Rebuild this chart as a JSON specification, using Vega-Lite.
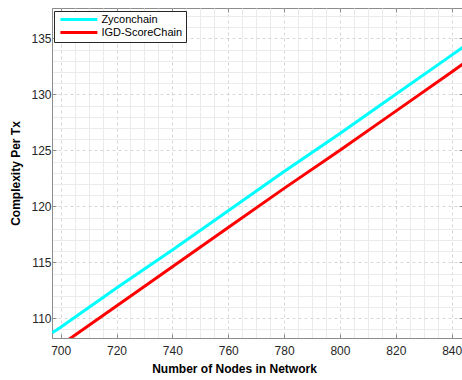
{
  "$schema": "https://vega.github.io/schema/vega-lite/v6.json",
  "width": 411,
  "height": 330,
  "autosize": "none",
  "padding": {"left": 52, "top": 8, "right": 0, "bottom": 42},
  "background": "white",
  "config": {
    "view": {"stroke": "#8c8c8c", "strokeWidth": 1},
    "font": "Liberation Sans"
  },
  "data": {
    "values": [
      {"series": "Zyconchain", "nodes": 697, "complexity": 108.7},
      {"series": "Zyconchain", "nodes": 700, "complexity": 109.2},
      {"series": "Zyconchain", "nodes": 720, "complexity": 112.7},
      {"series": "Zyconchain", "nodes": 740, "complexity": 116.1},
      {"series": "Zyconchain", "nodes": 760, "complexity": 119.6},
      {"series": "Zyconchain", "nodes": 780, "complexity": 123.1},
      {"series": "Zyconchain", "nodes": 800, "complexity": 126.5},
      {"series": "Zyconchain", "nodes": 820, "complexity": 130.0},
      {"series": "Zyconchain", "nodes": 840, "complexity": 133.5},
      {"series": "Zyconchain", "nodes": 844, "complexity": 134.2},
      {"series": "IGD-ScoreChain", "nodes": 697, "complexity": 107.1},
      {"series": "IGD-ScoreChain", "nodes": 700, "complexity": 107.6},
      {"series": "IGD-ScoreChain", "nodes": 720, "complexity": 111.1},
      {"series": "IGD-ScoreChain", "nodes": 740, "complexity": 114.6},
      {"series": "IGD-ScoreChain", "nodes": 760, "complexity": 118.1},
      {"series": "IGD-ScoreChain", "nodes": 780, "complexity": 121.6},
      {"series": "IGD-ScoreChain", "nodes": 800, "complexity": 125.0},
      {"series": "IGD-ScoreChain", "nodes": 820, "complexity": 128.5},
      {"series": "IGD-ScoreChain", "nodes": 840, "complexity": 132.0},
      {"series": "IGD-ScoreChain", "nodes": 844, "complexity": 132.7}
    ]
  },
  "layer": [
    {
      "mark": {"type": "line", "strokeWidth": 3, "clip": true},
      "encoding": {
        "x": {
          "field": "nodes",
          "type": "quantitative",
          "scale": {"domain": [696.9, 844.05], "nice": false, "zero": false},
          "axis": {
            "values": [700,705,710,715,720,725,730,735,740,745,750,755,760,765,770,775,780,785,790,795,800,805,810,815,820,825,830,835,840],
            "labelExpr": "datum.value % 20 === 0 ? datum.label : ''",
            "grid": true,
            "gridDash": {"condition": {"test": "datum.value % 20 === 0", "value": [3, 3]}, "value": []},
            "gridColor": {"condition": {"test": "datum.value % 20 === 0", "value": "#d6d6d6"}, "value": "#ebebeb"},
            "tickOpacity": {"condition": {"test": "datum.value % 20 === 0", "value": 1}, "value": 0},
            "tickSize": -4,
            "tickColor": "#8c8c8c",
            "domainColor": "#8c8c8c",
            "labelFontSize": 12,
            "labelColor": "#262626",
            "labelPadding": 11,
            "labelFlush": false,
            "title": "Number of Nodes in Network",
            "titleFontSize": 12,
            "titleFontWeight": "bold",
            "titleColor": "#000000",
            "titleX": 182,
            "titleY": 30,
            "titleBaseline": "middle",
            "titleAlign": "center"
          }
        },
        "y": {
          "field": "complexity",
          "type": "quantitative",
          "scale": {"domain": [108.24, 137.71], "nice": false, "zero": false},
          "axis": {
            "values": [109,110,111,112,113,114,115,116,117,118,119,120,121,122,123,124,125,126,127,128,129,130,131,132,133,134,135,136,137],
            "labelExpr": "datum.value % 5 === 0 ? datum.label : ''",
            "grid": true,
            "gridDash": {"condition": {"test": "datum.value % 5 === 0", "value": [3, 3]}, "value": []},
            "gridColor": {"condition": {"test": "datum.value % 5 === 0", "value": "#d6d6d6"}, "value": "#ebebeb"},
            "tickOpacity": {"condition": {"test": "datum.value % 5 === 0", "value": 1}, "value": 0},
            "tickSize": -4,
            "tickColor": "#8c8c8c",
            "domainColor": "#8c8c8c",
            "labelFontSize": 12,
            "labelColor": "#262626",
            "labelPadding": 5,
            "labelFlush": false,
            "title": "Complexity Per Tx",
            "titleFontSize": 12,
            "titleFontWeight": "bold",
            "titleColor": "#000000",
            "titleX": -37,
            "titleY": 165,
            "titleBaseline": "middle",
            "titleAlign": "center",
            "titleAngle": -90
          }
        },
        "color": {
          "field": "series",
          "type": "nominal",
          "scale": {"domain": ["Zyconchain", "IGD-ScoreChain"], "range": ["#00ffff", "#ff0000"]},
          "legend": {
            "title": null,
            "orient": "none",
            "legendX": 2,
            "legendY": 3,
            "direction": "vertical",
            "symbolType": "M-6,0H6",
            "symbolSize": 38,
            "symbolStrokeWidth": 3,
            "symbolOffset": 16.4,
            "labelOffset": 17,
            "labelAlign": "left",
            "labelFontSize": 11,
            "labelColor": "#000000",
            "padding": 3,
            "rowPadding": 0,
            "fillColor": "#ffffff",
            "strokeColor": "#262626",
            "cornerRadius": 0
          }
        }
      }
    },
    {
      "mark": {"type": "line", "strokeOpacity": 0, "clip": true},
      "encoding": {
        "x": {
          "field": "nodes",
          "type": "quantitative",
          "axis": {
            "orient": "top",
            "values": [700,720,740,760,780,800,820,840],
            "labels": false,
            "grid": false,
            "domain": false,
            "tickSize": -4,
            "tickColor": "#8c8c8c",
            "title": null
          }
        },
        "y": {
          "field": "complexity",
          "type": "quantitative",
          "axis": {
            "orient": "right",
            "values": [110,115,120,125,130,135],
            "labels": false,
            "grid": false,
            "domain": false,
            "tickSize": -4,
            "tickColor": "#8c8c8c",
            "title": null
          }
        },
        "detail": {"field": "series", "type": "nominal"}
      }
    }
  ],
  "resolve": {"axis": {"x": "independent", "y": "independent"}}
}
